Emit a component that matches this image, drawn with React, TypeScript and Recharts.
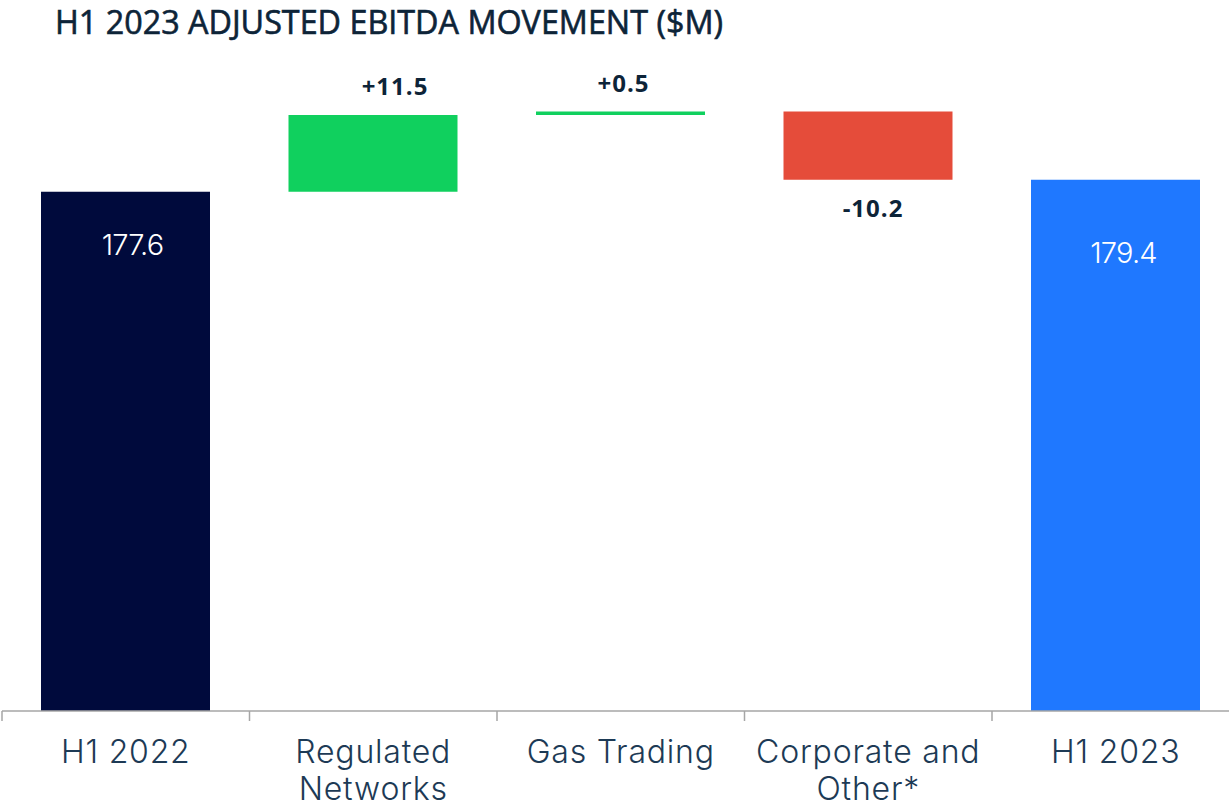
import React from "react";
import { BarChart, Bar, XAxis, YAxis, Cell, LabelList } from "recharts";

const categories = [
  "H1 2022",
  "Regulated\nNetworks",
  "Gas Trading",
  "Corporate and\nOther*",
  "H1 2023",
];
const values = [177.6, 11.5, 0.5, -10.2, 179.4];
const kinds = ["total", "delta", "delta", "delta", "total"];
const yDomain = [100, 200];

const NAVY = "#000a3c";
const GREEN = "#10d05e";
const RED = "#e54c3a";
const BLUE = "#1f78ff";
const TEXT = "#0d2438";
const TICK_TEXT = "#1d3a55";
const AXIS = "#a6a6a6";

const colors = [NAVY, GREEN, GREEN, RED, BLUE];

// build floating [low, high] ranges for the waterfall
let running = 0;
const rows = categories.map((name, i) => {
  const v = values[i];
  let range: [number, number];
  if (kinds[i] === "total") {
    running = v;
    range = [0, v];
  } else {
    const next = running + v;
    range = [Math.min(running, next), Math.max(running, next)];
    running = next;
  }
  const label =
    kinds[i] === "total" ? v.toFixed(1) : (v > 0 ? "+" : "") + v.toFixed(1);
  return { name, range, label, kind: kinds[i], value: v };
});

function CategoryTick(props: any) {
  const { x, y, payload, index } = props;
  const half = payload?.offset ?? 123.75;
  const lines = String(payload.value).split("\n");
  return (
    <g>
      <line x1={x - half} y1={y - 10} x2={x - half} y2={y} stroke={AXIS} strokeWidth={1.5} />
      {index === categories.length - 1 && (
        <line x1={x + half} y1={y - 10} x2={x + half} y2={y} stroke={AXIS} strokeWidth={1.5} />
      )}
      <text
        x={x}
        y={y}
        textAnchor="middle"
        fill={TICK_TEXT}
        style={{ fontFamily: "Inter, 'Open Sans', sans-serif", fontWeight: 300, fontSize: 32, letterSpacing: 0.8 }}
      >
        {lines.map((l, k) => (
          <tspan key={k} x={x} y={y + 42 + k * 37}>
            {l}
          </tspan>
        ))}
      </text>
    </g>
  );
}

function BarLabel(props: any) {
  const { x, y, width, height, index } = props;
  const row = rows[index];
  if (!row) return null;
  const nudgeX = [7, 22, 3, 5, 8][index] ?? 0;
  const cx = x + width / 2 + nudgeX;
  if (row.kind === "total") {
    const dy = index === 0 ? 63 : 83;
    return (
      <text
        x={cx}
        y={y + dy}
        textAnchor="middle"
        fill="#ffffff"
        style={{ fontFamily: "Inter, sans-serif", fontWeight: 300, fontSize: 29, letterSpacing: -0.8 }}
      >
        {row.label}
      </text>
    );
  }
  const ty = row.value >= 0 ? y - 20 : y + height + 37;
  return (
    <text
      x={cx}
      y={ty}
      textAnchor="middle"
      fill={TEXT}
      style={{ fontFamily: "'Open Sans', sans-serif", fontWeight: 700, fontSize: 24, letterSpacing: 1 }}
    >
      {row.label}
    </text>
  );
}

export default function App() {
  return (
    <div
      style={{
        position: "absolute",
        left: 0,
        top: 0,
        width: 1229,
        height: 808,
        overflow: "hidden",
        background: "#ffffff",
      }}
    >
      <svg width={1229} height={60} style={{ position: "absolute", left: 0, top: 0 }}>
        <text
          x={55}
          y={34}
          textLength={668}
          lengthAdjust="spacingAndGlyphs"
          fill={TEXT}
          stroke={TEXT}
          strokeWidth={0.6}
          style={{ fontFamily: "'Open Sans', sans-serif", fontWeight: 400, fontSize: 32 }}
        >
          H1 2023 ADJUSTED EBITDA MOVEMENT ($M)
        </text>
      </svg>
      <div style={{ position: "absolute", left: 0, top: 0 }}>
        <BarChart
          width={1240}
          height={808}
          data={rows}
          margin={{ top: 42, right: 0.5, bottom: 0, left: 2 }}
        >
          <XAxis
            dataKey="name"
            height={97}
            interval={0}
            axisLine={{ stroke: AXIS, strokeWidth: 1.5 }}
            tickLine={false}
            tickSize={10}
            tickMargin={0}
            tick={<CategoryTick />}
          />
          <YAxis hide domain={yDomain} allowDataOverflow type="number" />
          <Bar dataKey="range" barSize={169} isAnimationActive={false}>
            {rows.map((r, i) => (
              <Cell key={r.name} fill={colors[i]} />
            ))}
            <LabelList dataKey="label" content={<BarLabel />} />
          </Bar>
        </BarChart>
      </div>
    </div>
  );
}
